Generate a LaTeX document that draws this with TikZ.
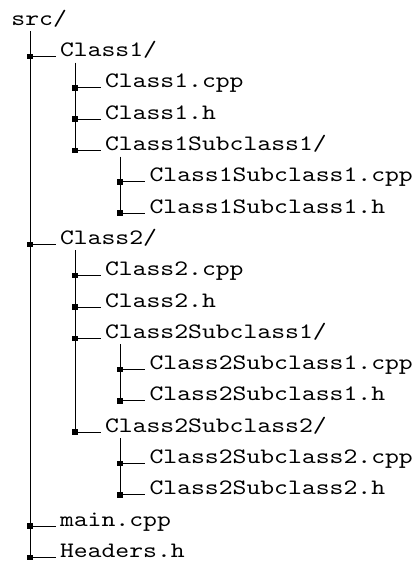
\documentclass[tikz,border=0pt]{standalone}
\usepackage{graphicx}
% Typewriter file names (cmtt10 design, enlarged), widened a little
\font\treett=cmtt10 at 22pt
\newcommand\entrytext[1]{\scalebox{1.2}[1]{\treett #1}}
\tikzset{
  entry/.style={anchor=base west, inner sep=0pt, outer sep=0pt},
  knot/.style={rectangle, fill=black, inner sep=0pt, minimum size=5.5pt},
  branch/.style={line width=1pt, shorten >=4.5pt},
  trunk/.style={line width=1pt},
}
\begin{document}
\begin{tikzpicture}[x=1pt,y=-1pt]
\useasboundingbox (0,0) rectangle (416,566);
% entries (baseline positions)
\node[entry] (r0)  at (11.5,25.3)  {\entrytext{src/}};
\node[entry] (r1)  at (60,56.6)    {\entrytext{Class1/}};
\node[entry] (r2)  at (105,87.9)   {\entrytext{Class1.cpp}};
\node[entry] (r3)  at (105,119.2)  {\entrytext{Class1.h}};
\node[entry] (r4)  at (105,150.5)  {\entrytext{Class1Subclass1/}};
\node[entry] (r5)  at (149.5,181.8){\entrytext{Class1Subclass1.cpp}};
\node[entry] (r6)  at (149.5,213.1){\entrytext{Class1Subclass1.h}};
\node[entry] (r7)  at (60,244.4)   {\entrytext{Class2/}};
\node[entry] (r8)  at (105,275.7)  {\entrytext{Class2.cpp}};
\node[entry] (r9)  at (105,307.0)  {\entrytext{Class2.h}};
\node[entry] (r10) at (105,338.3)  {\entrytext{Class2Subclass1/}};
\node[entry] (r11) at (149.5,369.6){\entrytext{Class2Subclass1.cpp}};
\node[entry] (r12) at (149.5,400.9){\entrytext{Class2Subclass1.h}};
\node[entry] (r13) at (105,432.2)  {\entrytext{Class2Subclass2/}};
\node[entry] (r14) at (149.5,463.5){\entrytext{Class2Subclass2.cpp}};
\node[entry] (r15) at (149.5,494.8){\entrytext{Class2Subclass2.h}};
\node[entry] (r16) at (60,526.1)   {\entrytext{main.cpp}};
\node[entry] (r17) at (60,557.4)   {\entrytext{Headers.h}};
% knots on the trunks
\foreach \i/\x in {1/30,7/30,16/30,17/30,2/75,3/75,4/75,8/75,9/75,10/75,13/75,5/120,6/120,11/120,12/120,14/120,15/120}{
  \node[knot] (k\i) at (r\i.base west -| \x,0) {};
}
% trunks: from under the parent down to its last child
\foreach \p/\c in {0/17,1/4,4/6,7/13,10/12,13/15}{
  \coordinate (t\p) at ([yshift=-6pt]r\p.base west);
  \draw[trunk] (t\p -| k\c) -- (k\c.center);
}
% branches to each entry
\foreach \i in {1,...,17}{
  \draw[branch] (k\i.center) -- (r\i.base west);
}
\end{tikzpicture}
\end{document}
